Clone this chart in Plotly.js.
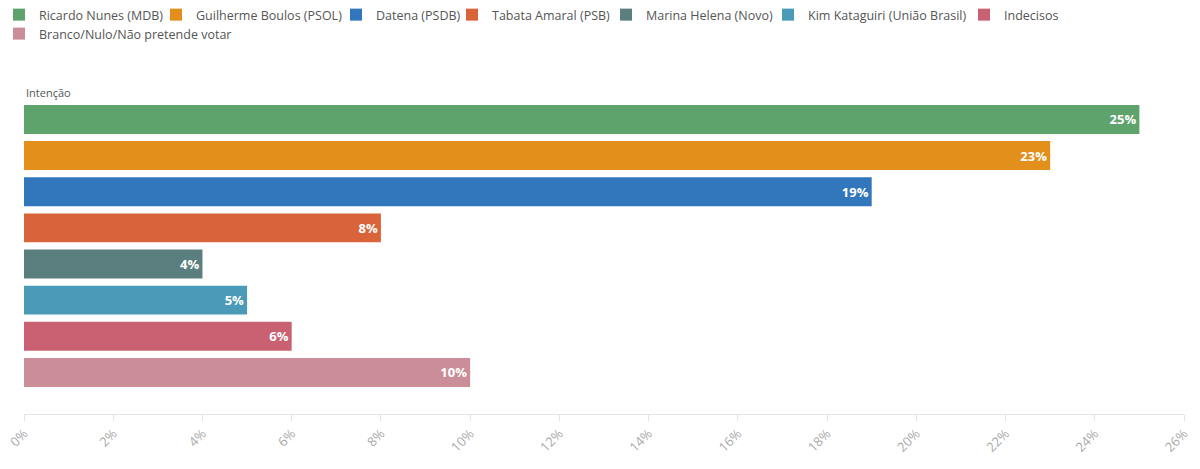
<!DOCTYPE html>
<html>
<head>
<meta charset="utf-8">
<script src="https://cdn.plot.ly/plotly-3.0.1.min.js"></script>
<style>
  html, body { margin: 0; padding: 0; background: #fff; }
  #chart { width: 1200px; height: 469px; }
</style>
</head>
<body>
<div id="chart"></div>
<script>
// poll data: voting intention (%)
const candidates = [
  'Ricardo Nunes (MDB)',
  'Guilherme Boulos (PSOL)',
  'Datena (PSDB)',
  'Tabata Amaral (PSB)',
  'Marina Helena (Novo)',
  'Kim Kataguiri (União Brasil)',
  'Indecisos',
  'Branco/Nulo/Não pretende votar'
];
const intencao = [25, 23, 19, 8, 4, 5, 6, 10];
const colors = ['#5fa36c', '#e2901b', '#3276bb', '#d9643a', '#5a7f7e', '#4a9ab8', '#c96172', '#cb8d97'];
const xTicks = [0, 2, 4, 6, 8, 10, 12, 14, 16, 18, 20, 22, 24, 26];

// plot area in pixels
const W = 1200, H = 469;
const M = { l: 24, r: 16, t: 101, b: 55 };
const plotW = W - M.l - M.r;
const plotH = H - M.t - M.b;

// legend entries laid out like the original wrapped legend:
// one small legend per entry, [left px of swatch, row]
const legendSpots = [[13, 0], [170, 0], [350, 0], [466, 0], [620, 0], [782, 0], [978, 0], [13, 1]];
const legendKey = i => (i === 0 ? 'legend' : 'legend' + (i + 1));

const traces = candidates.map((name, i) => ({
  type: 'bar',
  orientation: 'h',
  name: name,
  legend: legendKey(i),
  x: [intencao[i]],
  y: [name],
  marker: { color: colors[i] },
  text: [intencao[i] + '%'],
  textposition: 'inside',
  insidetextanchor: 'end',
  textfont: { family: 'Open Sans', size: 13, color: '#ffffff', weight: 'bold' },
  hoverinfo: 'x+name'
}));

const layout = {
  width: W,
  height: H,
  margin: { l: M.l, r: M.r, t: M.t, b: M.b, autoexpand: false },
  paper_bgcolor: '#fff',
  plot_bgcolor: '#fff',
  font: { family: 'Open Sans', color: '#555' },
  barmode: 'overlay',
  bargap: 0.2,
  showlegend: true,
  xaxis: {
    range: [0, 26],
    tickvals: xTicks,
    ticktext: xTicks.map(v => v + '%'),
    tickangle: -45,
    tickfont: { size: 13, color: '#aaa' },
    showgrid: false,
    zeroline: false,
    showline: true,
    linecolor: '#e3e3e3',
    ticks: 'outside',
    ticklen: 6,
    tickcolor: '#e3e3e3',
    fixedrange: true
  },
  yaxis: {
    type: 'category',
    categoryorder: 'array',
    categoryarray: candidates,
    range: [8.15, -0.51],
    showticklabels: false,
    showgrid: false,
    zeroline: false,
    showline: false,
    ticks: '',
    fixedrange: true
  },
  annotations: [{
    text: 'Intenção',
    xref: 'paper', yref: 'paper',
    x: 0, y: 1.0,
    xanchor: 'left', yanchor: 'bottom',
    yshift: -1,
    showarrow: false,
    font: { size: 11, color: '#555' }
  }]
};

legendSpots.forEach(([px, row], i) => {
  layout[legendKey(i)] = {
    orientation: 'h',
    x: (px - 14 - M.l) / plotW,
    xanchor: 'left',
    y: 1 + (M.t - row * 19) / plotH,
    yanchor: 'top',
    font: { size: 12.5, color: '#555' },
    itemwidth: 30,
    bgcolor: 'rgba(0,0,0,0)'
  };
});

Plotly.newPlot('chart', traces, layout, { displayModeBar: false, staticPlot: true });
</script>
</body>
</html>
